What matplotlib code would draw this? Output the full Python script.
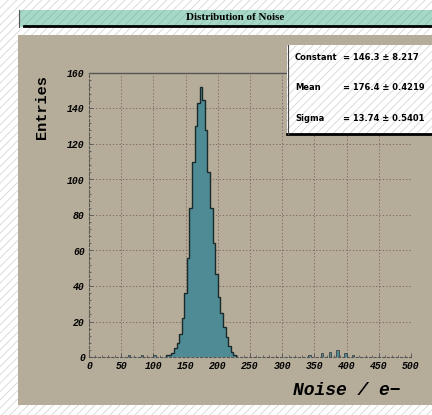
import numpy as np
import matplotlib.pyplot as plt
from matplotlib.patches import Rectangle

plt.rcParams['hatch.linewidth'] = 0.5

# histogram contents (bin width 4)
bin_lo = [120, 124, 128, 132, 136, 140, 144, 148, 152, 156, 160, 164, 168, 172,
          176, 180, 184, 188, 192, 196, 200, 204, 208, 212, 216, 220, 224]
counts = [1, 1, 2, 5, 8, 13, 22, 36, 56, 84, 110, 130, 143, 152,
          145, 128, 104, 84, 64, 47, 34, 25, 17, 11, 6, 3, 1]
# small tail entries
tail_lo = [60, 80, 100, 340, 360, 372, 384, 396, 408]
tail_counts = [1, 1, 1, 1, 2, 3, 4, 2, 1]

xticks = [0, 50, 100, 150, 200, 250, 300, 350, 400, 450, 500]
yticks = [0, 20, 40, 60, 80, 100, 120, 140, 160]

stat_names = ['Constant', 'Mean', 'Sigma']
stat_vals = ['= 146.3 \u00b1 8.217', '= 176.4 \u00b1 0.4219', '= 13.74 \u00b1 0.5401']

W, H = 432, 415
fig = plt.figure(figsize=(W/100, H/100), dpi=100)

def fx(px): return px/W
def fy(py): return 1-py/H

# hatched white background
bg = fig.add_axes([0, 0, 1, 1])
bg.set_xlim(0, 1); bg.set_ylim(0, 1); bg.axis('off')
bg.add_patch(Rectangle((0, 0), 1, 1, facecolor='white', edgecolor='#cfcfcf',
                       hatch='////', lw=0))
# pad
bg.add_patch(Rectangle((fx(18), fy(405)), 1-fx(18), fy(35)-fy(405),
                       facecolor='#b5ad99', edgecolor='none', lw=0))
# title box
bg.add_patch(Rectangle((fx(19), fy(27)), 1-fx(19), fy(10)-fy(27),
                       facecolor='#a6d8c7', edgecolor='#8fbcad', hatch='////', lw=0))
bg.plot([fx(24), 1], [fy(26.5), fy(26.5)], color='black', lw=2)
bg.plot([fx(19), fx(19)], [fy(27), fy(10)], color='#555555', lw=0.8)
bg.text(fx(235), fy(18), 'Distribution of Noise', ha='center', va='center',
        family='Liberation Serif', fontweight='bold', fontsize=8)

ax = fig.add_axes([fx(89), fy(357), fx(411)-fx(89), fy(73)-fy(357)])
ax.set_facecolor('none')
ax.bar(bin_lo, counts, width=4, align='edge', color='#4e8b95', edgecolor='none', zorder=3)
edges = bin_lo + [bin_lo[-1]+4]
ax.stairs(counts, edges, color='#1a2a2a', lw=1.0, zorder=4)
ax.bar(tail_lo, tail_counts, width=4, align='edge', color='#4e8b95', edgecolor='#333333',
       lw=0.5, zorder=3)
ax.set_xlim(0, 500)
ax.set_ylim(0, 160)
ax.set_xticks(xticks)
ax.set_yticks(yticks)
ax.set_xticks(np.arange(0, 501, 10), minor=True)
ax.set_yticks(np.arange(0, 161, 4), minor=True)
ax.grid(True, color='#7a5a5a', ls=(0, (1.5, 2.5)), lw=0.6, zorder=1)
for s in ['left', 'bottom', 'right']:
    ax.spines[s].set_color('#555555')
    ax.spines[s].set_linestyle((0, (2, 2)))
    ax.spines[s].set_linewidth(0.8)
ax.spines['right'].set_visible(False)
ax.spines['top'].set_color('#555555')
ax.spines['top'].set_linewidth(1.0)
ax.tick_params(which='both', direction='in', length=3, color='#555555', width=0.6,
               labelsize=7, pad=3)
ax.tick_params(which='minor', length=1.5)
for lab in ax.get_xticklabels() + ax.get_yticklabels():
    lab.set_family('Liberation Mono')
    lab.set_style('italic')
    lab.set_fontweight('bold')
fig.text(fx(347), fy(390), 'Noise / e\u2212', family='Liberation Mono', fontweight='bold',
         style='italic', fontsize=13, ha='center', va='center')
fig.text(fx(42), fy(107), 'Entries', family='Liberation Mono', fontweight='bold',
         fontsize=11, rotation=90, ha='center', va='center')

# stats box
sb = fig.add_axes([fx(287), fy(135), 1-fx(287), fy(45)-fy(135)])
sb.set_xlim(0, 1); sb.set_ylim(0, 1); sb.axis('off')
sb.add_patch(Rectangle((0, 0), 1, 1, facecolor='white', edgecolor='#cfcfcf',
                       hatch='////', lw=0, transform=sb.transAxes))
sb.plot([0, 1], [0.01, 0.01], color='black', lw=2, transform=sb.transAxes, clip_on=False)
sb.plot([0.005, 0.005], [0, 1], color='#444444', lw=0.8, transform=sb.transAxes)
rows_y = [57, 88, 118]
for name, val, py in zip(stat_names, stat_vals, rows_y):
    yy = (135-py)/90
    sb.text((295-287)/145, yy, name, va='center', ha='left', fontsize=6,
            fontweight='bold', family='DejaVu Sans')
    sb.text((343-287)/145, yy, val, va='center', ha='left', fontsize=6,
            fontweight='bold', family='DejaVu Sans')

fig.savefig('out.png', dpi=100)
